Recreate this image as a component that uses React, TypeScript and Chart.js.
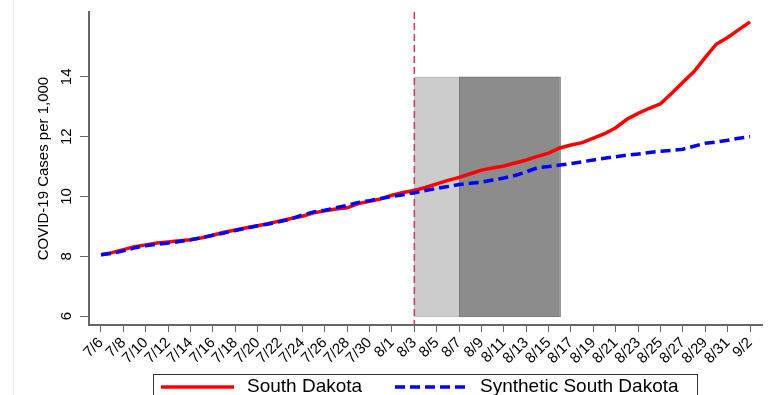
import React, { useEffect, useRef } from "react";
import { Chart, registerables } from "chart.js";

Chart.register(...registerables);

const dayLabels = [
  "7/6","7/7","7/8","7/9","7/10","7/11","7/12","7/13","7/14","7/15","7/16","7/17","7/18","7/19","7/20","7/21","7/22","7/23","7/24","7/25","7/26","7/27","7/28","7/29","7/30","7/31",
  "8/1","8/2","8/3","8/4","8/5","8/6","8/7","8/8","8/9","8/10","8/11","8/12","8/13","8/14","8/15","8/16","8/17","8/18","8/19","8/20","8/21","8/22","8/23","8/24","8/25","8/26","8/27","8/28","8/29","8/30","8/31",
  "9/1","9/2",
];

const southDakota = [
  8.05, 8.12, 8.22, 8.32, 8.38, 8.44, 8.48, 8.52, 8.55, 8.62, 8.70, 8.80, 8.88, 8.95, 9.02, 9.10, 9.18, 9.26, 9.34, 9.45,
  9.52, 9.58, 9.62, 9.76, 9.84, 9.92, 10.04, 10.13, 10.20, 10.30, 10.42, 10.54, 10.64, 10.76, 10.88, 10.95, 11.02, 11.12, 11.22, 11.34,
  11.45, 11.62, 11.72, 11.80, 11.95, 12.10, 12.30, 12.58, 12.78, 12.95, 13.10, 13.45, 13.82, 14.18, 14.65, 15.10, 15.32, 15.58, 15.84,
];

const syntheticSouthDakota = [
  8.05, 8.10, 8.18, 8.28, 8.35, 8.40, 8.44, 8.49, 8.55, 8.62, 8.70, 8.78, 8.86, 8.94, 9.02, 9.08, 9.16, 9.25, 9.38, 9.48,
  9.54, 9.62, 9.70, 9.80, 9.86, 9.93, 10.00, 10.06, 10.12, 10.20, 10.27, 10.33, 10.40, 10.44, 10.48, 10.55, 10.62, 10.70, 10.82, 10.96,
  11.00, 11.05, 11.10, 11.16, 11.22, 11.28, 11.33, 11.38, 11.42, 11.47, 11.51, 11.54, 11.58, 11.68, 11.78, 11.82, 11.88, 11.95, 12.00,
];

const yTickValues = [6, 8, 10, 12, 14];
const treatmentDay = 28; // 8/3
const lightBand = [28, 32]; // 8/3 - 8/7
const darkBand = [32, 41]; // 8/7 - 8/16
const bandRange = [6, 14];

const FONT = "'Liberation Sans', Arial, sans-serif";

const overlayPlugin = {
  id: "overlay",
  beforeDatasetsDraw(chart: any) {
    const { ctx, scales, chartArea } = chart;
    const x = scales.x;
    const y = scales.y;
    ctx.save();
    const yTop = y.getPixelForValue(bandRange[1]);
    const yBot = y.getPixelForValue(bandRange[0]);
    // light band
    let x0 = x.getPixelForValue(lightBand[0]);
    let x1 = x.getPixelForValue(lightBand[1]);
    ctx.fillStyle = "#cccccc";
    ctx.fillRect(x0, yTop, x1 - x0, yBot - yTop);
    ctx.strokeStyle = "#bdbdbd";
    ctx.lineWidth = 1;
    ctx.strokeRect(x0 + 0.5, yTop + 0.5, x1 - x0, yBot - yTop);
    // dark band
    x0 = x.getPixelForValue(darkBand[0]);
    x1 = x.getPixelForValue(darkBand[1]);
    ctx.fillStyle = "#8c8c8c";
    ctx.fillRect(x0, yTop, x1 - x0, yBot - yTop);
    ctx.strokeStyle = "#7a7a7a";
    ctx.strokeRect(x0 + 0.5, yTop + 0.5, x1 - x0, yBot - yTop);
    // treatment line
    const xt = x.getPixelForValue(treatmentDay);
    ctx.strokeStyle = "#d8365f";
    ctx.lineWidth = 1.5;
    ctx.setLineDash([7, 4]);
    ctx.beginPath();
    ctx.moveTo(xt, chartArea.top);
    ctx.lineTo(xt, chartArea.bottom);
    ctx.stroke();
    ctx.restore();
  },
  afterDraw(chart: any) {
    const { ctx, scales, chartArea } = chart;
    const y = scales.y;
    ctx.save();
    // faint frame line at left
    ctx.strokeStyle = "#f0f0f0";
    ctx.lineWidth = 1;
    ctx.beginPath();
    ctx.moveTo(13.5, 0);
    ctx.lineTo(13.5, 395);
    ctx.stroke();
    // y tick labels (rotated)
    ctx.fillStyle = "#000";
    ctx.font = `15px ${FONT}`;
    ctx.textAlign = "center";
    ctx.textBaseline = "middle";
    yTickValues.forEach((v) => {
      const py = y.getPixelForValue(v);
      ctx.save();
      ctx.translate(67, py);
      ctx.rotate(-Math.PI / 2);
      ctx.fillText(String(v), 0, 0);
      ctx.restore();
    });
    // y title
    ctx.save();
    ctx.translate(44, (chartArea.top + chartArea.bottom) / 2);
    ctx.rotate(-Math.PI / 2);
    ctx.fillText("COVID-19 Cases per 1,000", 0, 0);
    ctx.restore();
    // legend
    const ds = chart.data.datasets;
    ctx.strokeStyle = "#333";
    ctx.lineWidth = 1;
    ctx.strokeRect(153.5, 374.5, 544, 40);
    const ly = 387;
    ctx.font = `19px ${FONT}`;
    ctx.textAlign = "left";
    const items = [
      { x0: 161, x1: 234, tx: 247, d: ds[0] },
      { x0: 395, x1: 468, tx: 480, d: ds[1] },
    ];
    items.forEach((it) => {
      ctx.strokeStyle = it.d.borderColor;
      ctx.lineWidth = it.d.borderWidth;
      ctx.setLineDash(it.d.borderDash || []);
      ctx.beginPath();
      ctx.moveTo(it.x0, ly);
      ctx.lineTo(it.x1, ly);
      ctx.stroke();
      ctx.setLineDash([]);
      ctx.fillStyle = "#000";
      ctx.fillText(it.d.label, it.tx, ly);
    });
    ctx.restore();
  },
};

export default function App() {
  const ref = useRef<HTMLCanvasElement | null>(null);
  useEffect(() => {
    if (!ref.current) return;
    const chart = new Chart(ref.current, {
      type: "line",
      data: {
        datasets: [
          {
            label: "South Dakota",
            data: southDakota.map((v, i) => ({ x: i, y: v })),
            borderColor: "#ff0000",
            borderWidth: 3.5,
            pointRadius: 0,
            tension: 0,
            order: 1,
          },
          {
            label: "Synthetic South Dakota",
            data: syntheticSouthDakota.map((v, i) => ({ x: i, y: v })),
            borderColor: "#0000ff",
            borderWidth: 3.5,
            borderDash: [10, 5],
            pointRadius: 0,
            tension: 0,
            order: 0,
          },
        ],
      },
      options: {
        animation: false,
        responsive: false,
        layout: { padding: { left: 0, top: 12, right: 20, bottom: 0 } },
        plugins: { legend: { display: false }, tooltip: { enabled: false } },
        scales: {
          x: {
            type: "linear",
            min: -1.07,
            max: 59.07,
            afterBuildTicks: (axis: any) => {
              axis.ticks = dayLabels
                .map((_, i) => i)
                .filter((i) => i % 2 === 0)
                .map((i) => ({ value: i }));
            },
            afterFit: (axis: any) => {
              axis.height = 70;
            },
            ticks: {
              autoSkip: false,
              minRotation: 45,
              maxRotation: 45,
              padding: 2,
              color: "#000",
              font: { family: FONT, size: 15 },
              callback: (v: any) => dayLabels[v] ?? "",
            },
            grid: { drawOnChartArea: false, tickLength: 7, color: "#666", lineWidth: 1 },
            border: { color: "#666", width: 2 },
          },
          y: {
            type: "linear",
            min: 5.7,
            max: 16.17,
            afterBuildTicks: (axis: any) => {
              axis.ticks = yTickValues.map((v) => ({ value: v }));
            },
            afterFit: (axis: any) => {
              axis.width = 89;
            },
            ticks: { display: false },
            grid: { drawOnChartArea: false, tickLength: 9, color: "#666", lineWidth: 1 },
            border: { color: "#666", width: 2 },
          },
        },
      },
      plugins: [overlayPlugin],
    });
    return () => chart.destroy();
  }, []);
  return (
    <div style={{ position: "fixed", left: 0, top: 0, width: 782, height: 395, background: "#fff" }}>
      <canvas ref={ref} width={782} height={395} style={{ display: "block", width: 782, height: 395 }} />
    </div>
  );
}
